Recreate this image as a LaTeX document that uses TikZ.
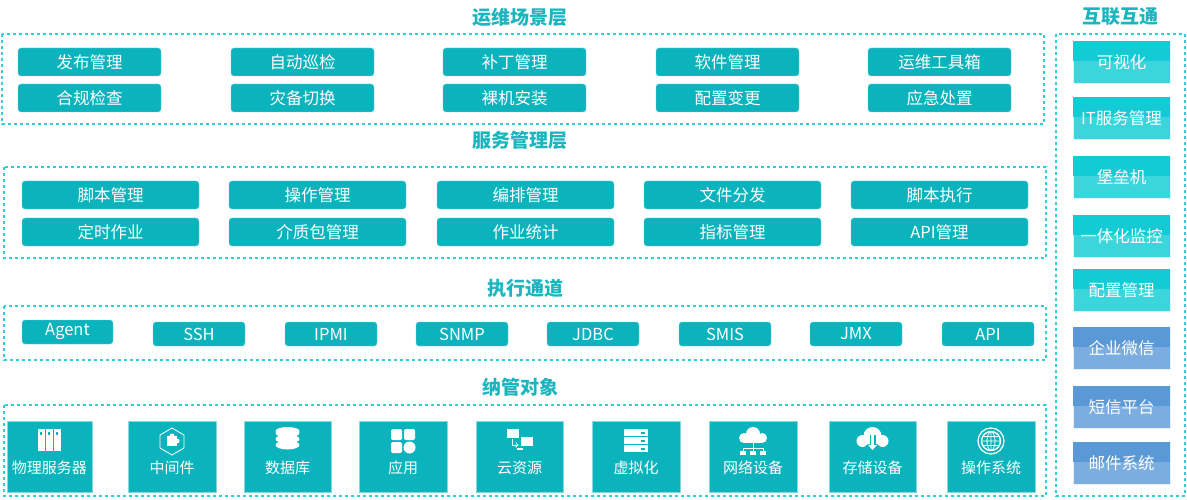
\documentclass[tikz,border=0pt]{standalone}
\usepackage{fontspec}
\setmainfont{Noto Sans CJK SC}
\definecolor{tl}{HTML}{0BB3BD}
\definecolor{tt}{HTML}{1BB5C0}
\definecolor{dl}{HTML}{2CCFDA}
\definecolor{cyA}{HTML}{14CBD5}
\definecolor{cyB}{HTML}{3AD6DC}
\definecolor{blA}{HTML}{5A98D6}
\definecolor{blB}{HTML}{7BADE0}
\tikzset{
 ttl/.style={text=tt,font=\bfseries\fontsize{19}{19}\selectfont},
 dbox/.style={draw=dl,dashed,line width=1.2pt},
 btn/.style={fill=tl,rounded corners=3pt,draw=tl!60!white,line width=0.4pt},
 btxt/.style={text=white,font=\fontsize{16.5}{16.5}\selectfont},
 ttxt/.style={text=white,font=\fontsize{15}{15}\selectfont},
 tile/.style={fill=tl},
}
\begin{document}
\begin{tikzpicture}[x=1pt,y=-1pt]
\useasboundingbox (0,0) rectangle (1187,500);
% titles
\node[ttl] (t1) at (520,17) {运维场景层};
\node[ttl] (t2) at (520,140) {服务管理层};
\node[ttl] (t3) at (525,288) {执行通道};
\node[ttl] (t4) at (520,387) {纳管对象};
\node[ttl] (t5) at (1120,17) {互联互通};
% boxes
\draw[dbox] (2,34) rectangle (1044,124);
\draw[dbox] (4,167) rectangle (1046,258);
\draw[dbox] (4,306) rectangle (1046,360);
\draw[dbox] (4,405) rectangle (1046,496);
\draw[dbox] (1056,34) rectangle (1185,496);
% layer 1
\foreach \x/\a/\b [count=\i] in {18/发布管理/合规检查,231/自动巡检/灾备切换,443/补丁管理/裸机安装,656/软件管理/配置变更,868/运维工具箱/应急处置}{
 \draw[btn] (\x,48) rectangle ++(143,28);
 \node[btxt] (a\i) at (\x+71.5,62) {\a};
 \draw[btn] (\x,84) rectangle ++(143,28);
 \node[btxt] (b\i) at (\x+71.5,98) {\b};
}
% layer 2
\foreach \x/\a/\b [count=\i] in {22/脚本管理/定时作业,229/操作管理/介质包管理,437/编排管理/作业统计,644/文件分发/指标管理,851/脚本执行/API管理}{
 \draw[btn] (\x,181) rectangle ++(177,28);
 \node[btxt] (c\i) at (\x+88.5,195) {\a};
 \draw[btn] (\x,218) rectangle ++(177,28);
 \node[btxt] (d\i) at (\x+88.5,232) {\b};
}
% layer 3
\draw[btn] (22,320) rectangle (113,344);
\node[btxt] (e0) at (67.5,332) {Agent};
\foreach \x/\a [count=\i] in {153/SSH,285/IPMI,416/SNMP,547/JDBC,679/SMIS,810/JMX,942/API}{
 \draw[btn] (\x,322) rectangle ++(92,24);
 \node[btxt] (e\i) at (\x+46,334) {\a};
}
% layer 4 tiles
\foreach \x/\w/\a [count=\i] in {7/85/物理服务器,128/88/中间件,244/87/数据库,359/88/应用,476/87/云资源,592/88/虚拟化,709/88/网络设备,829/87/存储设备,947/88/操作系统}{
 \fill[tile,draw=tl!50!white,line width=0.4pt] (\x,421) rectangle ++(\w,71);
 \node[ttxt] (f\i) at (\x+\w/2,468) {\a};
 \coordinate (g\i) at (\x+\w/2,441);
}
% icons
\begin{scope}[shift={(g1)}]
 \foreach \dx in {-12,-4,4}{\fill[white] (\dx,-12) rectangle ++(7,22);\fill[tl] (\dx+2.5,-9) rectangle ++(2,3);}
\end{scope}
\begin{scope}[shift={(g2)}]
 \draw[white,line width=0.8pt] (-12,-6)--(0,-13)--(12,-6)--(12,7)--(0,14)--(-12,7)--cycle;
 \fill[white] (-5,-5) rectangle (5,5); \fill[white] (0,-5) circle (2.5); \fill[white] (5,0) circle (2.5);
\end{scope}
\begin{scope}[shift={(g3)}]
 \foreach \dy in {-8,-2,4}{\fill[white] (0,\dy) ellipse (12 and 4.5);}
 \fill[white] (0,-10) ellipse (12 and 4);
\end{scope}
\begin{scope}[shift={(g4)}]
 \fill[white,rounded corners=2pt] (-12,-12) rectangle (-1,-1);
 \fill[white,rounded corners=2pt] (1,-12) rectangle (12,-1);
 \fill[white,rounded corners=2pt] (-12,1) rectangle (-1,12);
 \fill[white] (6.5,6.5) circle (6);
\end{scope}
\begin{scope}[shift={(g5)}]
 \fill[white] (-13,-12) rectangle (-1,-3); \fill[white] (1,-4) rectangle (13,5);
 \draw[white,line width=1pt,->] (-7,-2)--(-7,4)--(-1,4);
 \fill[white] (-3,7) rectangle (3,9);
\end{scope}
\begin{scope}[shift={(g6)}]
 \foreach \dy in {-12,-4,4}{\fill[white] (-12,\dy) rectangle ++(24,7);\fill[tl] (5,\dy+2.5) rectangle ++(4,2);}
\end{scope}
\begin{scope}[shift={(g7)}]
 \fill[white] (-9,-3) circle (5); \fill[white] (0,-7) circle (7); \fill[white] (9,-3) circle (5); \fill[white] (-9,-3) rectangle (9,2);
 \draw[white,line width=1pt] (0,2)--(0,7) (-10,7)--(10,7) (-10,7)--(-10,10) (0,7)--(0,10) (10,7)--(10,10);
 \foreach \dx in {-10,0,10}{\fill[white] (\dx-3,10) rectangle ++(6,4);}
\end{scope}
\begin{scope}[shift={(g8)}]
 \fill[white] (-10,0) circle (6); \fill[white] (0,-5) circle (9); \fill[white] (10,0) circle (6);
 \fill[tl] (-3,-6) rectangle (3,6); \fill[tl] (-7,4)--(7,4)--(0,13)--cycle;
 \fill[white] (-1.5,-6) rectangle (1.5,4); \fill[white] (-4.5,4)--(4.5,4)--(0,9)--cycle;
\end{scope}
\begin{scope}[shift={(g9)}]
 \draw[white,line width=1.2pt] (0,0) circle (13);
 \draw[white,line width=1.4pt] (0,0) circle (9.5);
 \draw[white,line width=0.8pt] (0,0) ellipse (4 and 9.5) (-9.5,0)--(9.5,0) (-8.5,-4.5)--(8.5,-4.5) (-8.5,4.5)--(8.5,4.5) (0,-9.5)--(0,9.5);
\end{scope}
% right column
\foreach \y/\a/\ca/\cb [count=\i] in {41/可视化/cyA/cyB,97/IT服务管理/cyA/cyB,156/堡垒机/cyA/cyB,215/一体化监控/cyA/cyB,269/配置管理/cyA/cyB,327/企业微信/blA/blB,386/短信平台/blA/blB,442/邮件系统/blA/blB}{
 \fill[\cb,draw=white!80!\cb,line width=0.4pt] (1073,\y) rectangle ++(97,42);
 \fill[\ca] (1073,\y) rectangle ++(97,20);
 \node[btxt] (r\i) at (1121.5,\y+21) {\a};
}
\end{tikzpicture}
\end{document}
